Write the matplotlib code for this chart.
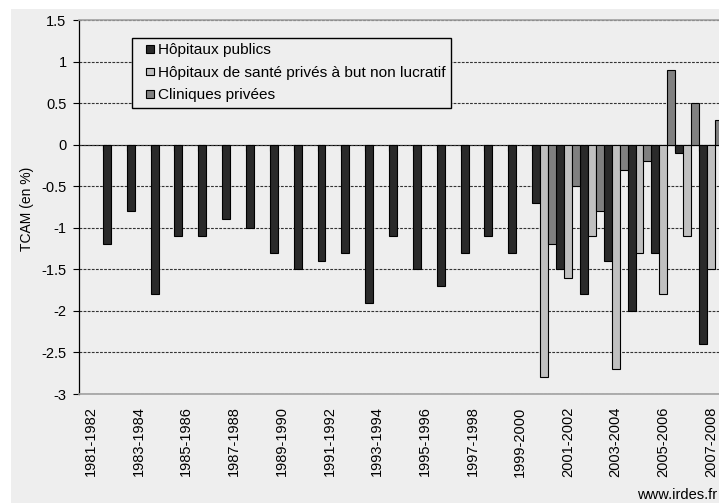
import numpy as np
import matplotlib
matplotlib.use("Agg")
import matplotlib.pyplot as plt
from matplotlib.patches import Patch, Rectangle
from matplotlib.legend_handler import HandlerPatch

plt.rcParams['font.family'] = ['Liberation Sans', 'DejaVu Sans']

# periods (one slot per period), values in %
periods = ["%d-%d" % (y, y + 1) for y in range(1981, 2008)]
publics = [np.nan, -1.2, -0.8, -1.8, -1.1, -1.1, -0.9, -1.0, -1.3, -1.5,
           -1.4, -1.3, -1.9, -1.1, -1.5, -1.7, -1.3, -1.1, -1.3, -0.7,
           -1.5, -1.8, -1.4, -2.0, -1.3, -0.1, -2.4]
non_lucratif = [np.nan] * 19 + [-2.8, -1.6, -1.1, -2.7, -1.3, -1.8, -1.1, -1.5]
cliniques = [np.nan] * 19 + [-1.2, -0.5, -0.8, -0.3, -0.2, 0.9, 0.5, 0.3]

series_names = ["Hôpitaux publics",
                "Hôpitaux de santé privés à but non lucratif",
                "Cliniques privées"]
colors = ["#2a2a2a", "#c0c0c0", "#808080"]
bg = "#eeeeee"

W, H = 719, 503
fig = plt.figure(figsize=(W / 100, H / 100), dpi=100)
fig.patches.append(Rectangle((11 / W, 0.0), 1.0, 1 - 9 / H,
                             transform=fig.transFigure, facecolor=bg,
                             edgecolor="none", zorder=-10))

n = len(periods)
slot = 23.85
left, top, bottom = 79, 20, 394
ax = fig.add_axes([left / W, 1 - bottom / H, n * slot / W, (bottom - top) / H])
ax.set_facecolor(bg)

x = np.arange(n)
w = 1 / 3
for i, (vals, c, name) in enumerate(zip([publics, non_lucratif, cliniques], colors, series_names)):
    ax.bar(x + i * w, vals, width=w, align="edge", color=c,
           edgecolor="black", linewidth=0.8, label=name, zorder=3)

ax.set_xlim(0, n)
ax.set_ylim(-3, 1.5)
yt = np.arange(-3, 1.51, 0.5)
ax.set_yticks(yt)
ax.set_yticklabels(["%g" % v for v in yt])
ax.tick_params(axis="y", direction="out", length=4, width=0.8, pad=5,
               labelsize=10.5, colors="black")
ax.yaxis.grid(True, linestyle=(0, (2.5, 1.2)), color="#333333", linewidth=0.8)
ax.set_axisbelow(True)

# category labels every other period, centred on the slot
ax.set_xticks(x[::2] + 0.5)
ax.set_xticklabels(periods[::2], rotation=90, fontsize=10.5)
ax.tick_params(axis="x", length=0, pad=9)

for s in ["top", "bottom"]:
    ax.spines[s].set_color("#a0a0a0")
    ax.spines[s].set_linewidth(1.2)
ax.spines["right"].set_visible(False)
ax.spines["left"].set_color("black")
ax.spines["left"].set_linewidth(0.9)

# zero line with the category tick marks pointing up
zero = ax.secondary_xaxis(3 / 4.5)
zero.set_xticks(np.arange(1, n + 1))
zero.set_xticklabels([])
zero.tick_params(axis="x", direction="in", length=4, width=0.8)
zero.spines["bottom"].set_color("black")
zero.spines["bottom"].set_linewidth(1.0)
zero.spines["bottom"].set_zorder(4)

fig.text(27 / W, 1 - 209 / H, "TCAM (en %)", rotation=90, ha="center",
         va="center", fontsize=10)


def small_square(legend, orig_handle, xdescent, ydescent, width, height, fontsize):
    s = 5.6
    return Rectangle((width - xdescent - s, (height - s) / 2 - ydescent), s, s)


handles = [Patch(facecolor=c, edgecolor="black", linewidth=0.8) for c in colors]
fig.legend(handles, series_names, loc="upper left",
           bbox_to_anchor=(132 / W, 1 - 38 / H), borderaxespad=0,
           frameon=True, fancybox=False, edgecolor="black", facecolor=bg,
           framealpha=1, fontsize=11.05, handlelength=1.1, handleheight=0.7,
           handletextpad=0.25, labelspacing=0.55, borderpad=0.35,
           handler_map={Patch: HandlerPatch(patch_func=small_square)})

fig.text(717 / W, 1 - 495 / H, "www.irdes.fr", ha="right", va="center",
         fontsize=10.5)

fig.savefig("out.png", dpi=100)
